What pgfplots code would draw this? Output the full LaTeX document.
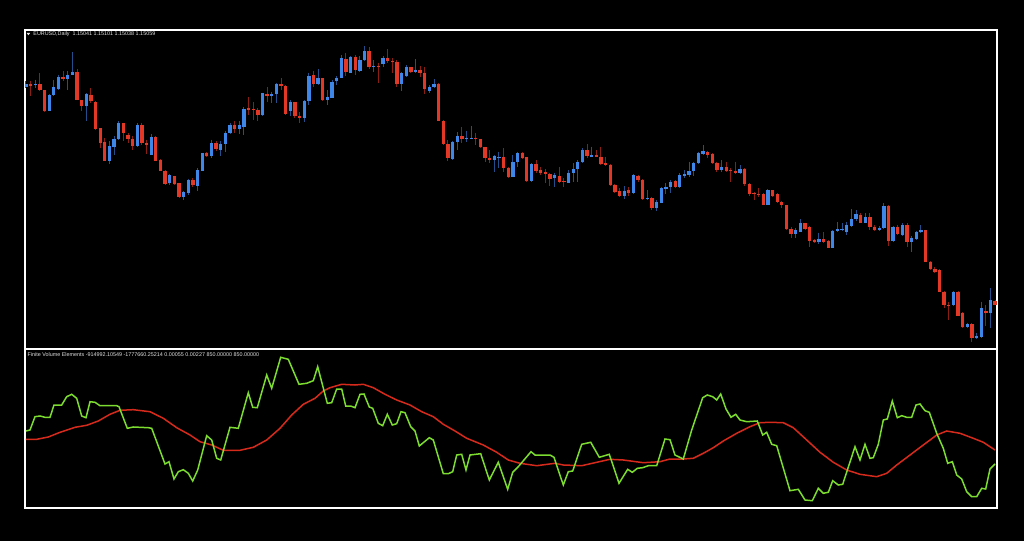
\documentclass[border=0pt]{standalone}
\usepackage{pgfplots}
\pgfplotsset{compat=1.18}
\usepackage{pgfplotstable}
\usepackage{fontspec}
\setmainfont{Liberation Sans}
\definecolor{bodyred}{RGB}{228,56,38}
\definecolor{bodyblue}{RGB}{62,134,232}
\definecolor{wickred}{RGB}{140,30,20}
\definecolor{wickblue}{RGB}{35,80,140}
\definecolor{fvegreen}{RGB}{124,220,48}
\definecolor{fvered}{RGB}{214,42,28}
\definecolor{txtgray}{RGB}{225,225,225}

% candles: i = bar number, bt/bb = body top/bottom, wt/wb = wick top/bottom (screen rows)
\pgfplotstableread{
i bt bb wt wb
1 84.0 86.7 81.3 88.0
3 84.0 85.3 79.7 88.0
6 94.7 110.7 94.0 111.0
7 87.3 94.7 79.7 96.3
8 77.3 88.7 74.7 89.7
10 74.7 78.7 71.3 89.7
11 72.3 74.7 52.3 74.7
14 94.0 105.7 93.0 121.3
19 146.3 161.3 141.3 164.0
20 138.7 146.7 136.3 154.7
21 123.0 138.7 121.3 139.7
25 124.7 145.7 123.0 147.3
28 137.3 154.7 134.0 155.3
32 175.3 183.3 174.0 184.7
35 192.3 197.0 190.7 199.7
36 180.0 193.0 178.7 194.7
38 170.3 186.0 168.0 191.3
39 153.3 170.7 152.7 171.3
41 143.0 156.0 139.7 158.0
43 144.0 149.7 141.3 156.3
44 133.3 144.0 131.3 152.0
45 124.7 133.3 123.0 134.0
47 124.7 128.7 121.3 134.0
48 108.7 126.7 107.3 134.7
52 93.3 115.3 92.7 116.0
54 94.3 96.0 91.7 103.3
55 84.3 94.3 82.7 103.3
58 101.7 110.7 100.0 116.0
61 101.0 118.3 100.0 121.7
62 75.7 101.0 72.7 105.0
64 78.3 84.0 69.3 85.0
66 96.7 100.0 90.0 105.3
67 81.7 97.7 80.0 98.3
68 77.7 80.7 76.0 85.0
69 58.3 77.7 55.0 78.3
71 56.7 72.7 56.0 73.3
73 60.0 70.7 56.0 71.7
74 51.0 60.0 46.0 60.7
76 65.7 67.0 60.0 71.7
78 57.7 64.3 56.0 67.3
82 73.3 84.3 71.7 90.7
83 66.7 75.7 65.0 76.7
85 69.7 72.0 59.3 73.3
88 86.7 90.7 85.0 93.3
89 84.3 86.7 79.3 88.3
93 141.7 159.0 140.7 160.0
94 135.7 141.7 132.3 150.0
96 137.7 139.3 130.7 141.7
97 137.7 139.0 126.0 139.3
102 156.0 160.0 155.0 171.7
103 156.7 158.3 151.7 168.3
106 161.7 176.7 155.0 177.3
107 153.3 162.3 151.7 166.7
110 164.0 180.7 163.3 181.7
115 175.3 178.3 172.7 187.3
118 172.7 182.7 170.0 183.3
119 169.0 173.3 163.3 181.7
120 161.7 169.3 160.0 181.7
121 150.0 162.3 148.3 163.3
123 155.0 156.7 146.7 157.3
130 190.7 196.0 186.0 199.3
132 175.0 193.3 174.0 194.0
135 198.0 199.0 190.0 200.0
137 202.0 208.3 200.0 211.0
138 188.3 202.7 187.3 203.3
139 186.7 189.0 183.3 194.0
140 181.7 186.7 180.0 193.3
142 175.3 187.3 173.3 188.3
143 174.0 175.7 170.0 178.3
144 171.0 175.0 161.7 176.7
145 162.7 171.0 161.7 175.7
146 153.3 163.3 151.7 164.3
147 151.0 154.0 145.0 155.0
151 167.3 170.0 160.0 171.7
155 169.0 173.3 165.0 174.0
161 190.3 204.7 189.3 205.3
167 230.0 234.0 228.3 238.3
168 222.7 231.7 219.3 232.3
172 239.3 242.0 232.7 244.0
175 230.7 247.7 230.0 248.3
176 229.0 231.0 222.3 231.7
177 228.7 230.0 223.3 230.7
178 225.0 231.7 221.7 235.0
179 219.0 225.7 209.3 226.7
180 214.3 219.3 210.0 220.7
182 217.3 222.7 213.3 223.3
185 227.7 230.0 226.0 230.7
186 206.0 228.3 203.3 229.3
188 226.7 240.7 226.0 241.7
190 225.0 235.0 223.3 235.7
192 237.7 241.7 236.0 252.3
193 231.7 239.3 230.7 240.0
194 230.0 232.3 225.0 233.3
201 291.7 305.0 291.0 306.0
204 324.3 327.3 322.7 328.3
206 335.7 338.3 333.3 339.3
207 308.3 336.7 301.7 338.3
209 300.0 312.7 288.3 327.7
}\bull

\pgfplotstableread{
i bt bb wt wb
2 84.0 86.3 80.7 96.3
4 84.0 89.7 73.0 91.3
5 90.0 110.7 90.0 112.0
9 77.0 78.7 70.7 80.7
12 72.0 99.7 69.3 99.7
13 100.3 105.7 99.7 111.3
15 94.7 101.3 88.0 103.0
16 102.0 128.7 101.3 129.7
17 128.0 143.0 128.0 148.0
18 141.7 160.7 138.0 161.3
22 123.0 133.3 123.0 141.3
23 135.3 138.7 133.0 143.0
24 139.3 146.3 136.3 149.7
26 124.7 143.0 123.0 144.7
27 143.0 145.3 139.7 154.0
29 137.3 160.7 136.3 161.3
30 160.0 170.7 159.3 171.3
31 170.7 184.0 170.0 184.7
33 176.3 184.0 175.7 184.7
34 183.3 197.0 182.7 198.0
37 180.0 184.7 178.0 187.3
40 153.3 156.0 152.0 156.7
42 143.0 148.7 141.3 150.7
46 124.7 128.7 121.3 133.0
49 108.3 109.7 97.3 114.7
50 108.7 110.0 102.0 119.7
51 109.7 115.3 108.0 121.3
53 94.3 96.0 87.3 102.0
56 84.3 85.7 78.3 90.0
57 86.0 114.0 85.3 114.7
59 101.7 115.7 101.7 118.3
60 115.7 118.0 111.7 123.3
63 75.0 84.0 70.7 86.7
65 78.3 100.0 77.7 100.7
70 58.7 71.7 52.7 76.0
72 56.7 70.0 55.0 75.0
75 51.0 66.7 47.3 69.3
77 65.7 67.0 62.7 82.7
79 57.7 60.7 49.3 62.7
80 61.0 62.0 58.3 73.3
81 61.7 84.3 60.0 86.7
84 67.3 72.0 66.7 73.3
86 70.0 72.7 66.0 76.7
87 73.3 89.3 66.7 94.0
90 84.3 120.7 83.3 121.3
91 120.7 144.3 120.0 145.0
92 144.3 157.7 140.0 160.7
95 136.0 139.3 126.7 143.3
98 137.7 139.3 133.3 145.0
99 139.3 147.3 138.7 148.0
100 147.3 158.3 146.7 161.7
101 158.3 160.3 150.0 163.3
104 156.7 167.7 148.3 171.7
105 167.7 176.7 166.7 178.3
108 153.3 157.7 151.7 159.3
109 157.3 180.7 156.7 181.7
111 164.0 170.7 160.0 173.3
112 170.0 172.7 166.7 175.0
113 171.7 174.0 169.3 183.3
114 174.0 179.3 172.7 186.0
116 176.0 181.7 166.7 183.3
117 181.0 182.3 178.3 186.7
122 150.0 155.7 144.0 158.3
124 155.0 156.7 150.0 157.3
125 156.7 164.0 146.7 165.0
126 163.3 165.0 156.7 166.0
127 164.7 185.0 164.0 185.7
128 185.0 191.7 184.0 193.3
129 191.3 196.0 188.3 196.7
131 190.0 192.7 187.3 196.0
133 176.0 180.0 175.0 181.7
134 180.0 199.0 179.3 199.7
136 198.3 208.3 196.7 210.0
141 181.3 187.3 180.0 188.3
148 152.3 155.3 150.7 158.3
149 154.3 163.3 153.3 164.0
150 163.0 170.0 161.7 171.7
152 167.0 171.0 161.7 171.7
153 170.0 171.0 168.3 181.7
154 170.7 173.3 161.7 174.3
156 169.0 184.0 168.3 186.0
157 183.7 194.3 183.3 196.0
158 193.3 194.3 191.7 200.0
159 194.0 194.7 188.3 196.7
160 194.3 204.7 193.3 205.3
162 190.3 196.0 190.0 196.7
163 194.3 202.3 193.3 203.3
164 202.0 205.0 200.7 208.3
165 205.0 229.3 204.7 230.0
166 229.3 234.0 227.3 238.3
169 223.3 229.3 222.7 230.0
170 226.7 240.7 226.0 246.7
171 240.0 242.0 239.3 242.7
173 239.0 242.0 231.7 243.3
174 241.0 247.7 240.0 248.3
181 215.0 222.7 213.3 223.3
183 217.3 226.7 213.3 230.0
184 226.7 230.0 225.0 230.7
187 206.0 240.7 205.3 246.0
189 226.7 234.3 225.0 235.0
191 225.0 241.7 223.3 247.3
195 230.3 261.7 229.7 262.3
196 261.7 269.3 261.0 270.0
197 269.3 271.7 266.7 272.7
198 270.0 291.7 269.3 292.3
199 291.7 305.0 291.0 308.3
200 304.7 305.7 301.7 320.0
202 291.7 315.7 291.0 316.3
203 312.7 327.3 312.0 328.3
205 324.3 338.3 323.3 341.7
208 310.7 312.7 305.0 326.0
210 301.0 305.0 300.0 305.0
}\bear

\pgfplotstableread{
x y
26 431
30 430
35 416.7
40 416
45 417.3
50 417.3
54 405
61.7 405
66.7 396.7
71.7 394.3
76.7 398.3
81.7 416
86 417.7
90 401.7
95 402.3
100 405.7
116.7 405.7
119 406.7
127.3 428.3
133.3 427
148.3 427.7
151.7 428.3
165 464
169 461.7
174 479
178.3 471.7
183.3 469.7
188.3 473.3
192.7 481
197.7 470
206.7 435.7
211.7 440
216.7 458.3
220.7 460
230 427.3
238.3 428.3
248.3 392.7
252.7 407.3
257.3 407.7
266.7 375
271.7 388.3
280.7 357.3
288.3 359.3
299 384.3
306.7 383.3
313.3 380.7
317.7 366.7
327.3 403.3
331.7 402.7
336.7 389
341.7 389
345.7 406
350.7 406
355 407.7
360 394.3
364 394
369.3 407
372.7 408.3
378.3 423.3
382.7 425.7
387.3 414.3
392.3 425
396.7 423.7
401 411.7
405 412.7
410.7 426.7
415 431
419.3 446
429.3 437.7
433.3 440
443.3 473.7
448.3 473.7
452.7 471.7
456.7 455
461.7 454.3
466 470
470 455
480.7 453.7
489.3 480
498.3 462.3
507.7 489.3
512.7 472.3
518.3 466.7
531 451.7
535 455
550 455
554 457.3
563.3 485
568.3 471.7
572.7 471
581.7 444.3
590.7 442.3
599.3 457.3
609.3 454.3
619 483.3
627.7 469.3
632.3 472.3
637.3 468.3
642.7 467.7
648.3 465.7
656.7 465.7
665 439
670 439.7
675 455
683.3 459
691.7 430
702.7 397.7
707.3 395
712.7 396.7
716.7 400
720.7 394
726 409
731 417.3
735.7 414.3
740 420
746.7 421.7
757.3 421
762.7 435
766.7 432.3
771.7 444.3
776.7 445.7
790 490.7
798.3 489.3
805 500
812.3 500.7
818.3 488.3
823.3 493.3
828.3 492.3
832.7 480.7
838.3 485
842.7 484.3
855 446.7
860 460
865 444.3
870 458.3
873.3 457.7
878.3 444.3
883.3 420
887.3 419
892.3 401
897.3 417.7
901.7 415.7
906.7 417.3
911.7 417.3
916 405
920 404
925 410.7
929.3 412.3
936.7 433.3
943.3 448.3
947.7 463.3
952.3 461.7
956.7 475
961.7 479
966.7 491.7
971.7 496.7
976.7 496.7
981.7 488.3
985.7 489
990 469
995 464
}\fvemain

\pgfplotstableread{
x y
26 439.3
36.7 439.3
48.3 437
60 432.3
75 427.3
86.7 425.3
98.3 421
110 414.3
120 410.3
133.3 409.7
150 411.7
163.3 418.3
176.7 427.7
190 435
200 441.7
211.7 445
223.3 450.3
240 450.3
253.3 447.3
266.7 440
280 428.3
291.7 415
303.3 404.3
315 398.3
323.3 391
330 387.7
341.7 384.3
355 385
363.3 384.3
373.3 387.7
385 394.3
396.7 400
410 405
421.7 411.7
433.3 416.7
443.3 424.3
455 431
466.7 438.3
483.3 445
496.7 452.3
508.3 460
520 463.3
536.7 465.7
555 463.3
563.3 465
581.7 465.7
596.7 462.3
610 459.3
623.3 460
643.3 462.7
660 461.7
670 459
683.3 459
693.3 458.3
703.3 453.3
713.3 447.7
723.3 441
736.7 433.3
750 426.7
760 422.7
770 422.3
783.3 422.7
793.3 427.7
806.7 440
820 452.3
833.3 462.3
846.7 470
860 474.3
876.7 476.7
886.7 473.3
896.7 465
910 455
923.3 445
936.7 435
946.7 431
960 433.3
973.3 438.3
983.3 442.3
995 450
}\fvesignal

\pgfplotsset{
  panel/.style={scale only axis, anchor=south west,
    xmin=25, xmax=997, y dir=reverse,
    xtick=\empty, ytick=\empty,
    axis line style={white, line width=1pt}},
}

\begin{document}
\begin{tikzpicture}
\fill[black] (0,0) rectangle (512pt,270.5pt);

% price panel
\begin{axis}[panel, at={(12.5pt,96pt)}, width=486pt, height=159.5pt,
  ymin=30, ymax=349]
\addplot[wickred, line width=0.5pt, mark=none, forget plot,
  quiver={u=0, v=\thisrow{wb}-\thisrow{wt}}]
  table[x expr=26+(\thisrow{i}-1)*4.637, y=wt] {\bear};
\addplot[wickblue, line width=0.5pt, mark=none, forget plot,
  quiver={u=0, v=\thisrow{wb}-\thisrow{wt}}]
  table[x expr=26+(\thisrow{i}-1)*4.637, y=wt] {\bull};
\addplot[bodyred, line width=1.65pt, line cap=butt, mark=none, forget plot,
  quiver={u=0, v=\thisrow{bb}-\thisrow{bt}}]
  table[x expr=26+(\thisrow{i}-1)*4.637, y=bt] {\bear};
\addplot[bodyblue, line width=1.65pt, line cap=butt, mark=none, forget plot,
  quiver={u=0, v=\thisrow{bb}-\thisrow{bt}}]
  table[x expr=26+(\thisrow{i}-1)*4.637, y=bt] {\bull};
\end{axis}

% indicator panel
\begin{axis}[panel, at={(12.5pt,16.5pt)}, width=486pt, height=79.5pt,
  ymin=349, ymax=508]
\addplot[fvered, line width=0.75pt, mark=none] table[x=x, y=y] {\fvesignal};
\addplot[fvegreen, line width=0.75pt, mark=none] table[x=x, y=y] {\fvemain};
\end{axis}

% headers
\fill[txtgray] (13.3pt,254.0pt) -- (15.1pt,254.0pt) -- (14.2pt,252.9pt) -- cycle;
\node[anchor=west, inner sep=0pt, text=txtgray, font=\fontsize{2.7pt}{3pt}\selectfont]
  at (16.5pt,253.2pt) {EURUSD,Daily\ \ 1.15041 1.15101 1.15038 1.15059};
\node[anchor=west, inner sep=0pt, text=txtgray, font=\fontsize{2.7pt}{3pt}\selectfont]
  at (13.6pt,93.3pt) {Finite Volume Elements -914992.10549 -1777660.25214 0.00055 0.00227 850.00000 850.00000};
\end{tikzpicture}
\end{document}
